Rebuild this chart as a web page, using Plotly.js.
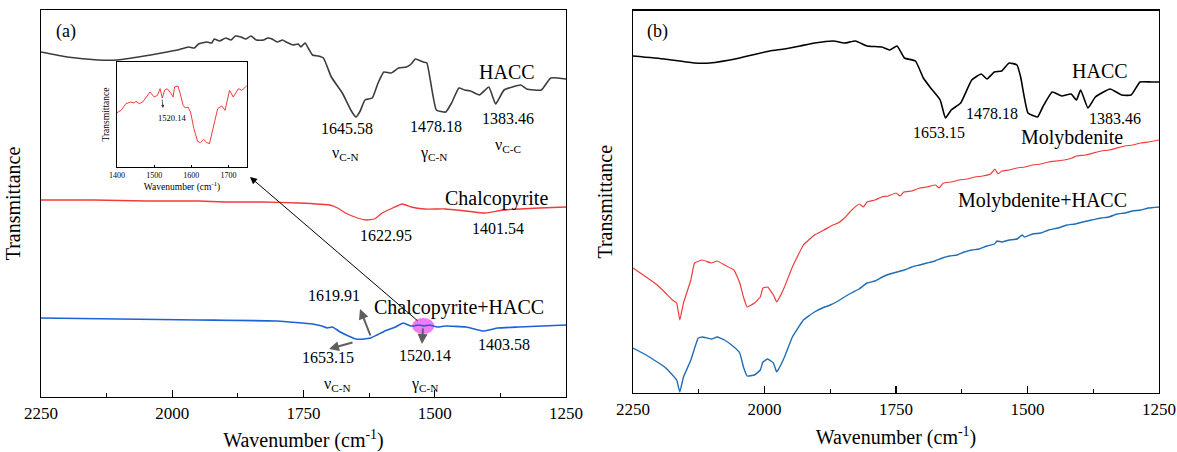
<!DOCTYPE html>
<html>
<head>
<meta charset="utf-8">
<script src="https://cdn.plot.ly/plotly-3.0.1.min.js"></script>
<style>html,body{margin:0;padding:0;background:#fff;}#chart{width:1177px;height:452px;}</style>
</head>
<body>
<div id="chart"></div>
<script>
// ---------- Panel (a) data (wavenumber cm-1, transmittance a.u.) ----------
const aHaccWn = [2250,2200,2141,2105,2041,2010,1990,1969,1958,1950,1934,1925,1920,1910,1898,1888,1880,1869,1860,1850,1840,1826,1818,1810,1800,1790,1783,1770,1760,1755,1747,1740,1733,1722,1712,1697,1676,1660,1650,1642,1633,1619,1608,1597,1583,1569,1554,1545,1537,1522,1515,1497,1479,1468,1454,1443,1432,1415,1397,1384,1368,1336,1325,1297,1279,1250];
const aHaccT  = [343,338,335,335,340,343,345,348,347,351,353,352,356,354,357,355,359,358,356,359,355,355,357,356,353,355,353,350,351,348,352,346,340,339,337,318,302,285,278,284,295,297,312,323,322,327,328,331,336,333,332,285,283,292,307,305,304,300,308,291,305,310,306,305,317,316];

const aChalWn = [2250,2150,2050,1950,1900,1830,1760,1700,1685,1670,1647,1630,1615,1600,1580,1562,1545,1520,1480,1440,1404,1370,1300,1250];
const aChalT  = [195,195,194,194,193,193,192,190,187,182,177,175,176,182,187,191,188,186,186,184,182,185,187,188];

const aMixWn = [2250,2100,1950,1800,1733,1715,1705,1695,1680,1660,1650,1635,1622,1610,1595,1575,1560,1545,1530,1520,1510,1495,1480,1440,1407,1380,1340,1250];
const aMixT  = [77,76,75,74,71,69,67,68,63,58,56,56,57,60,64,68,72,69,70,69,70,68,69,68,64,67,68,70];

// inset (1400-1750 cm-1) of Chalcopyrite+HACC
const insetWn = [1400,1411,1424,1437,1446,1451,1460,1469,1477,1489,1500,1509,1516,1522,1528,1535,1546,1551,1555,1564,1569,1578,1584,1591,1598,1607,1617,1624,1633,1642,1649,1660,1671,1682,1691,1703,1713,1727,1736,1749];
const insetT  = [163,170,190,195,192,197,190,195,207,225,210,215,235,207,230,235,220,210,240,243,225,185,177,180,165,115,77,73,83,73,70,125,175,183,170,230,210,235,230,243];

// ---------- Panel (b) data ----------
const bHaccWn = [2250,2190,2133,2104,2047,1990,1962,1933,1905,1869,1848,1827,1805,1777,1762,1748,1734,1713,1698,1684,1666,1656,1645,1627,1606,1588,1577,1563,1549,1535,1520,1513,1499,1481,1471,1453,1435,1417,1407,1399,1385,1371,1343,1321,1303,1286,1265,1250];
const bHaccT  = [339,336,332,332,337,344,346,349,352,354,352,354,349,348,345,349,337,334,317,307,295,277,285,292,315,321,316,323,324,332,330,318,282,278,288,303,299,301,295,305,287,298,306,300,300,313,313,313];

const bMolyWn = [2250,2225,2204,2190,2175,2167,2161,2154,2140,2133,2118,2101,2090,2076,2058,2047,2040,2033,2019,2008,2003,1994,1983,1977,1972,1962,1947,1926,1905,1887,1870,1860,1848,1834,1820,1812,1805,1790,1777,1765,1750,1742,1735,1720,1705,1691,1675,1668,1660,1645,1630,1615,1600,1585,1570,1562,1556,1549,1535,1520,1505,1490,1475,1460,1445,1430,1415,1407,1390,1375,1360,1345,1330,1315,1300,1285,1270,1250];
const bMolyT  = [127,118,110,103,95,92,75,92,115,132,135,132,134,130,125,112,98,88,92,98,107,108,100,93,97,108,128,150,160,165,170,172,177,185,191,188,193,195,198,199,202,199,203,204,207,208,210,207,212,213,215,216,218,219,221,226,221,224,225,227,228,230,231,233,234,235,237,239,240,242,244,245,247,249,250,252,253,255];

const bMixWn = [2250,2225,2204,2190,2175,2167,2161,2154,2140,2126,2118,2101,2090,2076,2058,2047,2040,2033,2019,2008,2003,1994,1983,1977,1972,1962,1947,1926,1905,1890,1875,1860,1848,1835,1820,1805,1790,1776,1762,1748,1734,1720,1705,1691,1676,1662,1648,1634,1620,1606,1592,1577,1563,1558,1549,1535,1520,1510,1506,1490,1475,1460,1442,1425,1410,1395,1378,1360,1345,1330,1315,1300,1285,1270,1250];
const bMixT  = [47,40,33,28,20,15,3,18,35,57,58,56,58,55,48,42,28,19,20,25,33,36,32,23,27,38,58,75,83,87,90,94,98,102,106,112,114,118,121,123,125,128,130,132,134,137,139,140,143,145,146,149,151,154,153,155,156,160,158,161,162,165,167,170,171,173,175,177,178,181,182,184,185,187,188];

const xTicks = [2250,2000,1750,1500,1250];
const insetTicks = [1400,1500,1600,1700];

// ---------- geometry ----------
const W = 1177, H = 452;
const FONT = 'Liberation Serif, Times New Roman, serif';
const px = x => x / W;
const py = y => 1 - y / H;

const traces = [
  {x: aHaccWn, y: aHaccT, xaxis:'x', yaxis:'y', mode:'lines', line:{color:'#3c3c3c', width:1.6, shape:'spline', smoothing:0.4}},
  {x: aChalWn, y: aChalT, xaxis:'x', yaxis:'y', mode:'lines', line:{color:'#ef3b3b', width:1.3, shape:'spline', smoothing:0.4}},
  {x: aMixWn,  y: aMixT,  xaxis:'x', yaxis:'y', mode:'lines', line:{color:'#1a62d6', width:1.6, shape:'spline', smoothing:0.4}},
  {x: insetWn, y: insetT, xaxis:'x3', yaxis:'y3', mode:'lines', line:{color:'#ef3b3b', width:1}},
  {x: bHaccWn, y: bHaccT, xaxis:'x2', yaxis:'y2', mode:'lines', line:{color:'#000000', width:1.6, shape:'spline', smoothing:0.4}},
  {x: bMolyWn, y: bMolyT, xaxis:'x2', yaxis:'y2', mode:'lines', line:{color:'#ef3b3b', width:1.2, shape:'spline', smoothing:0.3}},
  {x: bMixWn,  y: bMixT,  xaxis:'x2', yaxis:'y2', mode:'lines', line:{color:'#1f6db4', width:1.4, shape:'spline', smoothing:0.3}}
];
traces.forEach(t => { t.showlegend = false; t.hoverinfo = 'skip'; });

function mainX(domain, anchor) {
  return {
    domain: domain, anchor: anchor, range: [2250, 1250], tickvals: xTicks,
    ticks: 'inside', ticklen: 7, tickwidth: 1.3, tickcolor: '#000',
    minor: {ticks: 'inside', ticklen: 4, tickwidth: 1.1, tickcolor: '#000', dtick: 125, tick0: 1250, showgrid: false},
    showline: true, mirror: true, linecolor: '#000', linewidth: 1.4,
    showgrid: false, zeroline: false,
    tickfont: {family: FONT, size: 17, color: '#000'},
    title: {text: 'Wavenumber (cm<sup>-1</sup>)', font: {family: FONT, size: 20, color: '#000'}, standoff: 12}
  };
}
function mainY(domain, anchor, range) {
  return {
    domain: domain, anchor: anchor, range: range,
    showticklabels: false, ticks: '', showline: true, mirror: true,
    linecolor: '#000', linewidth: 1.4, showgrid: false, zeroline: false,
    title: {text: 'Transmittance', font: {family: FONT, size: 20, color: '#000'}, standoff: 13}
  };
}

const labelsA = [
  ['(a)', 66, 31, 18], ['HACC', 507, 72, 20],
  ['1645.58', 347, 128, 16], ['ν<sub>C-N</sub>', 345, 153, 16],
  ['1478.18', 436, 127, 16], ['γ<sub>C-N</sub>', 433, 153, 16],
  ['1383.46', 508, 118, 16], ['ν<sub>C-C</sub>', 508, 145, 16],
  ['Chalcopyrite', 496, 199, 20],
  ['1622.95', 386, 235, 16], ['1401.54', 498, 228, 16],
  ['1619.91', 334, 295, 16], ['Chalcopyrite+HACC', 459, 307, 20],
  ['1653.15', 328, 357, 16], ['1520.14', 425, 355, 16], ['1403.58', 504, 344, 16],
  ['ν<sub>C-N</sub>', 337, 384, 16], ['γ<sub>C-N</sub>', 425, 384, 16],
  ['1520.14', 172, 118, 8.5]
];
const labelsB = [
  ['(b)', 657, 31, 18], ['HACC', 1100, 71, 20],
  ['1653.15', 939, 132, 16], ['1478.18', 992, 113, 16], ['1383.46', 1115, 118, 16],
  ['Molybdenite', 1072, 137, 20], ['Molybdenite+HACC', 1042, 200, 20]
];

const annotations = labelsA.concat(labelsB).map(l => ({
  text: l[0], xref: 'paper', yref: 'paper', x: px(l[1]), y: py(l[2]),
  xanchor: 'center', yanchor: 'middle', showarrow: false,
  font: {family: FONT, size: l[3], color: '#000'}
}));

// arrows: [headX, headY, tailDx, tailDy, color, width, size]
const arrows = [
  [360, 309, 11, 28, '#5e5e5e', 2, 1],
  [329, 349, 25, -7, '#5e5e5e', 2, 1],
  [422, 344, 1, -17, '#5e5e5e', 2, 1],
  [250, 177, 169, 145, '#000', 1, 1.4],
  [163, 108, -1, -10, '#333', 0.8, 0.8]
];
arrows.forEach(a => annotations.push({
  text: '', xref: 'paper', yref: 'paper', x: px(a[0]), y: py(a[1]),
  ax: a[2], ay: a[3], showarrow: true, arrowhead: 2, arrowsize: a[6],
  arrowwidth: a[5], arrowcolor: a[4], standoff: 0
}));

const layout = {
  width: W, height: H,
  margin: {l: 0, r: 0, t: 0, b: 0},
  paper_bgcolor: '#fff', plot_bgcolor: 'rgba(0,0,0,0)',
  showlegend: false,
  xaxis: mainX([px(41), px(566)], 'y'),
  yaxis: mainY([py(397), py(10)], 'x', [-2, 385]),
  xaxis2: mainX([px(633), px(1159)], 'y2'),
  yaxis2: mainY([py(393), py(10.5)], 'x2', [2, 384.5]),
  xaxis3: {
    domain: [px(117), px(247)], anchor: 'y3', range: [1400, 1750], tickvals: insetTicks,
    ticks: 'inside', ticklen: 2, tickcolor: '#000', showline: true, mirror: true,
    linecolor: '#000', linewidth: 1, showgrid: false, zeroline: false,
    tickfont: {family: FONT, size: 8, color: '#000'},
    title: {text: 'Wavenumber (cm<sup>-1</sup>)', font: {family: FONT, size: 9.5, color: '#000'}, standoff: 3}
  },
  yaxis3: {
    domain: [py(167), py(62)], anchor: 'x3', range: [0, 315],
    showticklabels: false, ticks: '', showline: true, mirror: true,
    linecolor: '#000', linewidth: 1, showgrid: false, zeroline: false,
    title: {text: 'Transmittance', font: {family: FONT, size: 9.5, color: '#000'}, standoff: 4}
  },
  shapes: [{
    type: 'circle', xref: 'x', yref: 'y', x0: 1543, x1: 1501, y0: 61, y1: 77,
    fillcolor: 'rgba(240,100,240,0.85)', line: {width: 0}, layer: 'below'
  }],
  annotations: annotations
};

Plotly.newPlot('chart', traces, layout, {staticPlot: true, displayModeBar: false});
</script>
</body>
</html>
